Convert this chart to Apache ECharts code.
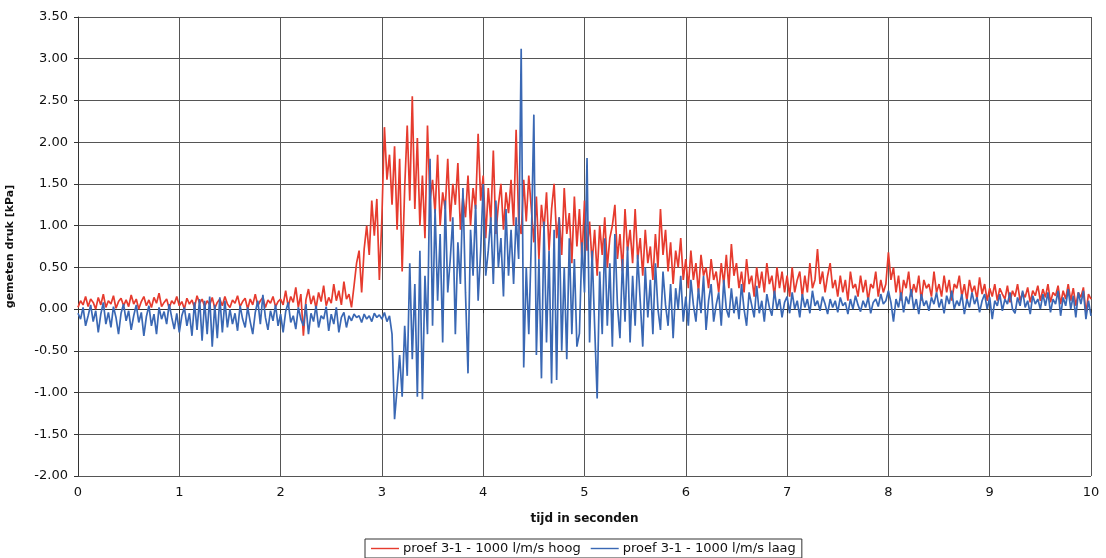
<!DOCTYPE html>
<html>
<head>
<meta charset="utf-8">
<script src="https://cdn.jsdelivr.net/npm/echarts@6/dist/echarts.min.js"></script>
<style>
  html, body { margin: 0; padding: 0; background: #ffffff; }
  #chart { width: 1106px; height: 558px; }
</style>
</head>
<body>
<div id="chart"></div>
<script>
// Sampling step of the pressure records (seconds)
const timeStep = 0.025;

// Pressure at the upper gauge (kPa), one row per half second
const drukHoog = [
  0.02,0.10,0.05,0.15,0.03,0.12,0.08,0.00,0.14,0.05,0.18,0.02,0.10,0.06,0.16,0.01,0.09,0.13,0.04,0.11,
  0.03,0.17,0.06,0.12,0.00,0.09,0.15,0.04,0.11,0.02,0.14,0.07,0.19,0.03,0.08,0.12,0.01,0.10,0.06,0.15,
  0.04,0.09,0.00,0.13,0.06,0.11,0.02,0.16,0.07,0.12,0.03,0.10,0.05,0.14,0.01,0.08,0.12,0.04,0.15,0.06,
  0.02,0.11,0.07,0.16,0.03,0.09,0.13,0.00,0.12,0.05,0.18,0.04,0.10,0.14,0.02,0.11,0.07,0.15,0.03,0.09,
  0.12,0.05,0.22,0.03,0.15,0.08,0.26,0.02,0.18,-0.32,0.11,0.24,0.06,0.16,0.01,0.20,0.09,0.28,0.04,0.14,
  0.07,0.30,0.10,0.22,0.05,0.33,0.12,0.18,0.02,0.28,0.55,0.70,0.20,0.72,1.00,0.65,1.30,0.88,1.32,0.35,
  1.10,2.18,1.55,1.85,1.25,1.95,0.95,1.80,0.45,1.45,2.20,1.30,2.55,1.20,2.05,1.00,1.60,0.85,2.20,1.30,
  1.55,1.15,1.85,1.00,1.40,1.20,1.80,1.05,1.50,1.25,1.75,0.95,1.35,1.10,1.60,1.00,1.45,1.20,2.10,1.30,
  1.60,0.85,1.45,1.05,1.90,0.90,1.25,1.50,0.95,1.40,1.15,1.55,1.00,2.15,1.05,0.90,1.55,1.05,1.60,1.20,
  0.80,1.35,0.60,1.25,0.95,1.40,0.70,1.20,1.50,0.85,1.10,0.65,1.45,0.90,1.15,0.55,1.35,0.75,1.20,0.60,
  1.30,0.70,1.05,0.55,0.95,0.40,1.00,0.65,1.10,0.50,0.85,1.00,1.25,0.60,0.90,0.45,1.20,0.70,0.95,0.55,
  1.20,0.60,0.85,0.40,0.95,0.55,0.75,0.35,0.90,0.50,1.20,0.65,0.95,0.45,0.80,0.30,0.70,0.50,0.85,0.35,
  0.60,0.25,0.70,0.35,0.55,0.20,0.65,0.40,0.50,0.25,0.60,0.35,0.45,0.20,0.55,0.30,0.65,0.25,0.78,0.40,
  0.55,0.25,0.45,0.20,0.60,0.30,0.40,0.15,0.50,0.25,0.45,0.20,0.55,0.30,0.40,0.15,0.50,0.25,0.45,0.20,
  0.40,0.15,0.50,0.20,0.35,0.45,0.15,0.40,0.20,0.55,0.25,0.35,0.72,0.30,0.45,0.20,0.40,0.55,0.25,0.35,
  0.15,0.40,0.20,0.35,0.10,0.45,0.25,0.30,0.15,0.40,0.20,0.35,0.10,0.30,0.25,0.45,0.15,0.35,0.20,0.30,
  0.68,0.35,0.50,0.20,0.40,0.10,0.35,0.25,0.45,0.15,0.30,0.20,0.40,0.10,0.35,0.25,0.30,0.15,0.45,0.20,
  0.30,0.15,0.40,0.20,0.35,0.10,0.30,0.25,0.40,0.15,0.30,0.10,0.35,0.20,0.28,0.12,0.38,0.18,0.30,0.10,
  0.25,0.15,0.30,0.10,0.25,0.18,0.12,0.28,0.08,0.22,0.15,0.30,0.10,0.20,0.14,0.26,0.08,0.22,0.16,0.28,
  0.10,0.24,0.14,0.30,0.08,0.20,0.16,0.28,0.06,0.22,0.12,0.30,0.10,0.25,0.04,0.20,0.14,0.26,-0.05,0.18,
  0.12
];

// Pressure at the lower gauge (kPa), one row per half second
const drukLaag = [
  -0.05,-0.12,0.02,-0.20,-0.08,0.05,-0.15,-0.02,-0.28,-0.06,0.08,-0.18,-0.04,-0.22,0.03,-0.10,-0.30,-0.05,0.06,-0.14,
  -0.02,-0.25,-0.08,0.05,-0.16,-0.04,-0.32,-0.09,0.04,-0.20,-0.06,-0.30,0.02,-0.12,-0.03,-0.18,0.06,-0.10,-0.24,-0.05,
  -0.28,-0.08,0.02,-0.20,-0.05,-0.32,0.08,-0.25,0.12,-0.38,0.10,-0.30,0.15,-0.45,0.05,-0.35,0.14,-0.28,0.10,-0.22,
  0.00,-0.18,-0.05,-0.26,0.04,-0.12,-0.22,0.02,-0.15,-0.30,-0.04,0.10,-0.18,0.17,-0.10,-0.25,-0.02,-0.14,0.05,-0.20,
  -0.06,-0.28,-0.03,0.08,-0.16,-0.08,-0.24,0.02,-0.12,-0.20,0.06,-0.30,-0.05,-0.15,0.04,-0.22,-0.08,-0.12,0.03,-0.26,
  -0.06,-0.18,0.02,-0.28,-0.10,-0.04,-0.22,-0.08,-0.14,-0.06,-0.10,-0.08,-0.16,-0.06,-0.12,-0.08,-0.15,-0.05,-0.10,-0.07,
  -0.12,-0.04,-0.15,-0.08,-0.30,-1.32,-0.95,-0.55,-1.05,-0.20,-0.80,0.55,-0.60,0.30,-1.05,0.70,-1.08,0.40,-0.30,1.80,
  -0.20,1.20,0.10,0.90,-0.40,1.30,0.20,0.60,1.10,-0.30,0.80,0.30,1.45,0.20,-0.77,0.95,0.40,1.25,0.10,0.70,
  1.50,0.40,0.70,1.10,0.30,1.30,0.50,0.85,0.15,1.20,0.40,0.95,0.30,1.10,0.60,3.12,-0.70,0.50,-0.30,0.80,
  2.33,-0.55,0.60,-0.83,1.05,-0.40,0.70,-0.89,0.95,-0.85,1.10,-0.50,0.50,-0.60,0.85,-0.30,0.60,-0.45,-0.29,0.80,
  0.20,1.81,-0.40,0.70,-0.20,-1.07,0.45,-0.30,0.85,-0.20,0.55,-0.45,0.90,0.05,-0.35,0.60,-0.15,0.75,-0.40,0.40,
  -0.20,0.65,0.10,-0.45,0.50,-0.10,0.35,-0.30,0.55,0.00,-0.25,0.45,0.05,-0.20,0.30,-0.35,0.25,0.00,0.40,-0.15,
  0.15,-0.20,0.35,0.05,-0.15,0.25,-0.05,0.40,-0.25,0.10,0.30,-0.15,0.05,0.20,-0.20,0.35,0.00,-0.10,0.25,-0.05,
  0.15,-0.12,0.30,0.00,-0.20,0.20,0.05,-0.10,0.28,-0.05,0.10,-0.15,0.18,0.02,-0.08,0.22,0.00,0.12,-0.10,0.08,
  0.15,-0.05,0.20,0.00,0.10,-0.10,0.18,0.02,0.12,-0.05,0.22,0.04,0.10,-0.02,0.15,0.06,-0.06,0.12,0.02,0.10,
  -0.04,0.14,0.04,0.08,-0.06,0.12,0.00,0.16,0.05,-0.03,0.10,0.02,0.14,-0.05,0.08,0.12,0.03,0.18,0.06,0.10,
  0.22,0.08,-0.15,0.12,0.02,0.20,-0.04,0.15,0.06,0.24,0.00,0.12,-0.06,0.18,0.04,0.10,-0.02,0.14,0.06,0.20,
  0.02,0.12,-0.05,0.16,0.06,0.22,0.00,0.10,0.04,0.18,-0.06,0.12,0.02,0.20,0.06,0.14,-0.04,0.10,0.18,0.00,
  0.14,-0.12,0.10,0.04,0.18,-0.02,0.12,0.06,0.20,0.00,-0.05,0.14,0.04,0.22,0.02,0.10,-0.06,0.16,0.06,0.12,
  0.00,0.18,0.04,0.20,-0.04,0.12,0.06,0.22,-0.08,0.14,0.04,0.24,0.00,0.16,-0.10,0.20,0.06,0.22,-0.12,0.10,
  -0.08
];

const seriesNames = ['proef 3-1 - 1000 l/m/s hoog', 'proef 3-1 - 1000 l/m/s laag'];
const seriesColors = ['#e63b2e', '#3a68b4'];

// Pair every sample with its time stamp
const toPairs = arr => arr.map((v, i) => [+(i * timeStep).toFixed(3), v]);

const font = '"DejaVu Sans", Verdana, sans-serif';
const gridColor = '#555555';

const chart = echarts.init(document.getElementById('chart'), null, { renderer: 'canvas' });
chart.setOption({
  backgroundColor: '#ffffff',
  animation: false,
  grid: { left: 78, right: 15, top: 17, bottom: 82, containLabel: false, outerBoundsMode: 'none' },
  legend: {
    bottom: 0,
    left: 365,
    data: seriesNames,
    icon: 'path://M0,0 L30,0 L30,1.5 L0,1.5 Z',
    itemWidth: 28,
    itemHeight: 2,
    itemGap: 10,
    padding: [3, 6, 3, 6],
    borderColor: '#333333',
    borderWidth: 1,
    borderRadius: 0,
    textStyle: { fontFamily: font, fontSize: 13, color: '#111111', padding: [0, 0, 0, -1] }
  },
  xAxis: {
    type: 'value',
    min: 0,
    max: 10,
    interval: 1,
    name: 'tijd in seconden',
    nameLocation: 'middle',
    nameGap: 37,
    nameTextStyle: { fontFamily: font, fontSize: 12, fontWeight: 'bold', color: '#111111' },
    axisLine: { show: true, lineStyle: { color: '#333333', width: 1 } },
    axisTick: { show: true, length: 4, lineStyle: { color: '#333333' } },
    axisLabel: { fontFamily: font, fontSize: 13, color: '#111111', margin: 10 },
    splitLine: { show: true, lineStyle: { color: gridColor, width: 1 } }
  },
  yAxis: {
    type: 'value',
    min: -2,
    max: 3.5,
    interval: 0.5,
    name: 'gemeten druk [kPa]',
    nameLocation: 'middle',
    nameRotate: 90,
    nameGap: 62,
    nameTextStyle: { fontFamily: font, fontSize: 11, fontWeight: 'bold', color: '#111111' },
    axisLine: { show: true, lineStyle: { color: '#333333', width: 1 } },
    axisTick: { show: true, length: 4, lineStyle: { color: '#333333' } },
    axisLabel: {
      fontFamily: font, fontSize: 13, color: '#111111', margin: 10,
      formatter: v => v.toFixed(2)
    },
    splitLine: { show: true, lineStyle: { color: gridColor, width: 1 } }
  },
  series: [
    {
      name: seriesNames[0],
      type: 'line',
      data: toPairs(drukHoog),
      showSymbol: false,
      lineStyle: { color: seriesColors[0], width: 1.7 },
      itemStyle: { color: seriesColors[0] },
      z: 2
    },
    {
      name: seriesNames[1],
      type: 'line',
      data: toPairs(drukLaag),
      showSymbol: false,
      lineStyle: { color: seriesColors[1], width: 1.7 },
      itemStyle: { color: seriesColors[1] },
      z: 3
    }
  ]
});
</script>
</body>
</html>
